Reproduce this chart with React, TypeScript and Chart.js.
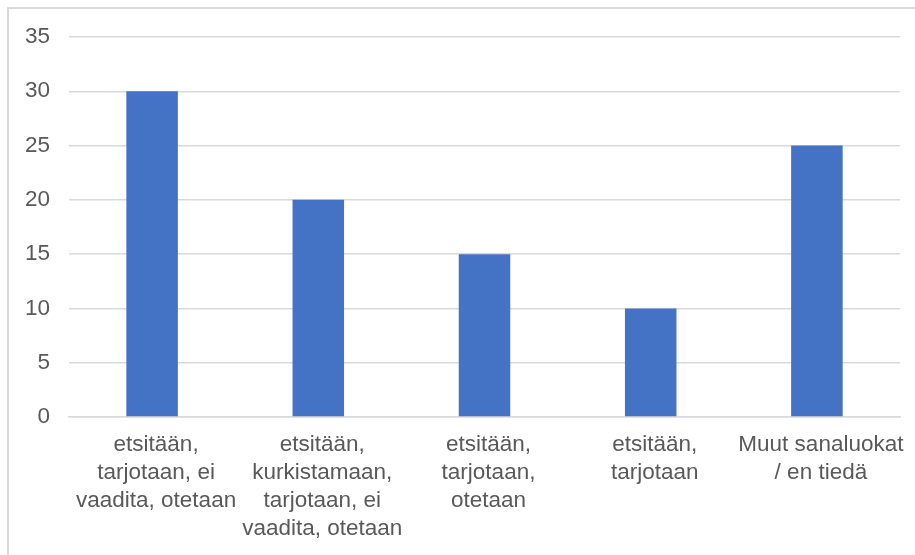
import React, { useEffect, useRef } from "react";
import { Chart, registerables } from "chart.js";

Chart.register(...registerables);

const categories: string[][] = [
  ["etsitään,", "tarjotaan, ei", "vaadita, otetaan"],
  ["etsitään,", "kurkistamaan,", "tarjotaan, ei", "vaadita, otetaan"],
  ["etsitään,", "tarjotaan,", "otetaan"],
  ["etsitään,", "tarjotaan"],
  ["Muut sanaluokat", "/ en tiedä"],
];
const values: number[] = [30, 20, 15, 10, 25];
const yTicks: number[] = [0, 5, 10, 15, 20, 25, 30, 35];

export default function App() {
  const ref = useRef<HTMLCanvasElement | null>(null);
  useEffect(() => {
    if (!ref.current) return;
    const font = { family: "'Liberation Sans', Arial, sans-serif", size: 22.5, lineHeight: 1.24 };
    const chart = new Chart(ref.current, {
      type: "bar",
      data: {
        labels: categories,
        datasets: [
          {
            data: values,
            backgroundColor: "#4472C4",
            categoryPercentage: 1,
            barPercentage: 0.31,
          },
        ],
      },
      options: {
        animation: false,
        responsive: false,
        maintainAspectRatio: false,
        layout: { padding: { top: 37, right: 15, left: 0, bottom: 0 } },
        plugins: { legend: { display: false }, tooltip: { enabled: false } },
        scales: {
          x: {
            grid: { display: false, drawTicks: false },
            border: { display: true, color: "#d9d9d9", width: 1.5 },
            ticks: { color: "#595959", font, padding: 14, labelOffset: 4, maxRotation: 0, autoSkip: false },
            afterFit: (s: any) => {
              s.height = 138;
            },
          },
          y: {
            min: 0,
            max: 35,
            afterBuildTicks: (s: any) => {
              s.ticks = yTicks.map((v) => ({ value: v }));
            },
            grid: { color: "#d9d9d9", lineWidth: 1.5, drawTicks: false },
            border: { display: false },
            ticks: { color: "#595959", font, padding: 19 },
            afterFit: (s: any) => {
              s.width = 69;
            },
          },
        },
      },
    });
    return () => chart.destroy();
  }, []);
  return (
    <div>
      <div
        style={{
          position: "fixed",
          left: 7,
          top: 7,
          width: 1000,
          height: 700,
          border: "2px solid #d9d9d9",
          boxSizing: "border-box",
        }}
      />
      <canvas
        ref={ref}
        width={915}
        height={555}
        style={{ position: "fixed", left: 0, top: 0, width: 915, height: 555 }}
      />
    </div>
  );
}
